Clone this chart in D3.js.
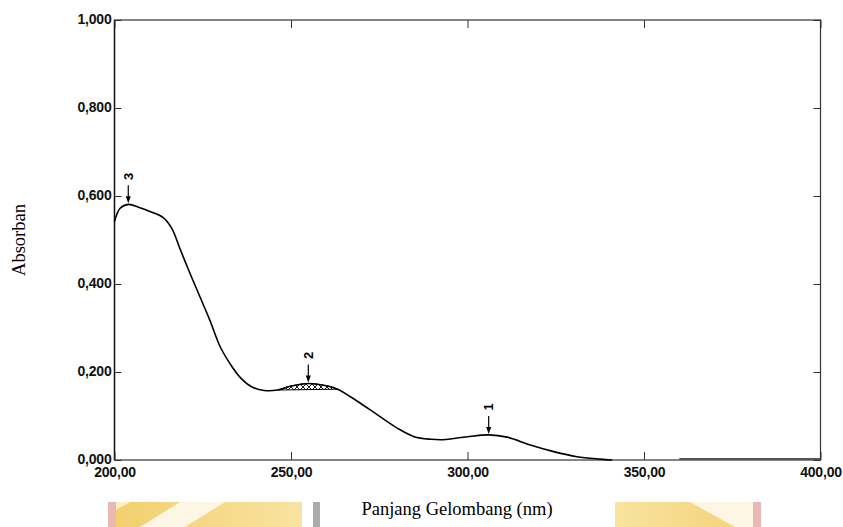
<!DOCTYPE html>
<html>
<head>
<meta charset="utf-8">
<script src="https://cdn.jsdelivr.net/npm/d3@7"></script>
<style>
  html, body { margin: 0; padding: 0; background: #fff; }
  svg { display: block; }
</style>
</head>
<body>
<svg id="chart" width="843" height="527"></svg>
<script>
// ---- data ----
const wavelength = [200, 201.6, 203.9, 207, 210, 213.8, 216.2, 218.6, 221.4, 224.2, 227, 229.9, 233.3, 235.8, 238.7, 242.4, 246.2, 250, 254.9, 260.4, 263.2, 268.9, 274.6, 280.2, 284.9, 289.7, 293, 296.1, 300, 306, 311.2, 317.8, 324.4, 331, 337.6, 341];
const absorbance = [0.542, 0.572, 0.581, 0.574, 0.565, 0.551, 0.527, 0.479, 0.424, 0.371, 0.318, 0.258, 0.212, 0.186, 0.167, 0.158, 0.159, 0.168, 0.174, 0.168, 0.161, 0.133, 0.102, 0.072, 0.053, 0.047, 0.046, 0.049, 0.053, 0.057, 0.052, 0.034, 0.019, 0.0075, 0.002, 0.0];
const tailWavelength = [360, 400];
const tailAbsorbance = [0.002, 0.002];
const hatchRange = [246.2, 263.2];
const peakWavelength = [306, 254.9, 203.9];
const peakAbsorbance = [0.057, 0.174, 0.581];
const peakLabels = ["1", "2", "3"];
const xTicks = [200, 250, 300, 350, 400];
const yTicks = [0, 0.2, 0.4, 0.6, 0.8, 1.0];
const xTitle = "Panjang Gelombang (nm)";
const yTitle = "Absorban";

// ---- layout ----
const svg = d3.select("#chart");
const L = 114.5, R = 820.5, T = 20, B = 460;
const x = d3.scaleLinear().domain([200, 400]).range([L, R]);
const y = d3.scaleLinear().domain([0, 1]).range([B, T]);
const fmtY = v => d3.format(".3f")(v).replace(".", ",");
const fmtX = v => d3.format(".2f")(v).replace(".", ",");

// ---- watermark decoration (background) ----
const defs = svg.append("defs");
const g1 = defs.append("linearGradient").attr("id", "wm1").attr("x1", "0").attr("x2", "1").attr("y1", "0").attr("y2", "0");
g1.append("stop").attr("offset", "0").attr("stop-color", "#f3cf6e");
g1.append("stop").attr("offset", "1").attr("stop-color", "#f8e3a2");
const g2 = defs.append("linearGradient").attr("id", "wm2").attr("x1", "0").attr("x2", "1").attr("y1", "0").attr("y2", "0");
g2.append("stop").attr("offset", "0").attr("stop-color", "#f8e3a0");
g2.append("stop").attr("offset", "1").attr("stop-color", "#f4d277");
const wm = svg.append("g").attr("class", "watermark");
wm.append("rect").attr("x", 108).attr("y", 502).attr("width", 8).attr("height", 25).attr("fill", "#e8b9b4");
wm.append("rect").attr("x", 116).attr("y", 502).attr("width", 186).attr("height", 25).attr("fill", "url(#wm1)");
wm.append("polygon").attr("points", "140,527 180,502 225,502 185,527").attr("fill", "#fdf6e4");
wm.append("polygon").attr("points", "116,510 130,502 116,502").attr("fill", "#fbeec8");
wm.append("rect").attr("x", 313).attr("y", 502).attr("width", 7).attr("height", 25).attr("fill", "#ababab");
wm.append("rect").attr("x", 615).attr("y", 502).attr("width", 138).attr("height", 25).attr("fill", "url(#wm2)");
wm.append("polygon").attr("points", "690,502 753,502 753,527 735,527").attr("fill", "#fdf6e4");
wm.append("rect").attr("x", 753).attr("y", 502).attr("width", 8).attr("height", 25).attr("fill", "#e8b9b4");

// ---- hatch pattern ----
const pat = defs.append("pattern").attr("id", "hatch").attr("patternUnits", "userSpaceOnUse")
  .attr("width", 6).attr("height", 6);
pat.append("path").attr("d", "M0,0 L6,6 M6,0 L0,6").attr("stroke", "#000").attr("stroke-width", 0.9);

// ---- frame ----
svg.append("rect").attr("x", L).attr("y", T).attr("width", R - L).attr("height", B - T)
  .attr("fill", "none").attr("stroke", "#333").attr("stroke-width", 1.2);
svg.append("line").attr("x1", L).attr("x2", L).attr("y1", T).attr("y2", B)
  .attr("stroke", "#111").attr("stroke-width", 1.4);

// ---- axes ----
const tickFont = "'Liberation Sans', Arial, sans-serif";
const yAxis = d3.axisLeft(y).tickValues(yTicks).tickFormat(fmtY).tickSizeInner(-7).tickSizeOuter(0).tickPadding(3);
const gy = svg.append("g").attr("transform", `translate(${L},0)`).call(yAxis);
gy.select(".domain").remove();
gy.selectAll("line").attr("stroke", "#333");
gy.selectAll("text").attr("x", -3).attr("dy", "0.28em").attr("font-family", tickFont).attr("font-size", 14).attr("font-weight", "bold")
  .attr("fill", "#111").attr("letter-spacing", "-0.2");

const yAxisR = d3.axisRight(y).tickValues(yTicks).tickFormat("").tickSizeInner(-7).tickSizeOuter(0);
const gyr = svg.append("g").attr("transform", `translate(${R},0)`).call(yAxisR);
gyr.select(".domain").remove();
gyr.selectAll("line").attr("stroke", "#333");

const xAxis = d3.axisBottom(x).tickValues(xTicks).tickFormat(fmtX).tickSizeInner(-8).tickSizeOuter(0).tickPadding(3);
const gx = svg.append("g").attr("transform", `translate(0,${B})`).call(xAxis);
gx.select(".domain").remove();
gx.selectAll("line").attr("stroke", "#333");
gx.selectAll("text").attr("y", 7).attr("font-family", tickFont).attr("font-size", 14).attr("font-weight", "bold")
  .attr("fill", "#111").attr("letter-spacing", "-0.2");

const xAxisT = d3.axisTop(x).tickValues(xTicks).tickFormat("").tickSizeInner(-8).tickSizeOuter(0);
const gxt = svg.append("g").attr("transform", `translate(0,${T})`).call(xAxisT);
gxt.select(".domain").remove();
gxt.selectAll("line").attr("stroke", "#333");

// ---- curve ----
const pts = wavelength.map((w, i) => [w, absorbance[i]]);
const line = d3.line().x(d => x(d[0])).y(d => y(d[1])).curve(d3.curveCatmullRom.alpha(0.5));

// hatched region between curve and baseline
const hpts = pts.filter(d => d[0] >= hatchRange[0] && d[0] <= hatchRange[1]);
svg.append("path").attr("d", line(hpts) + "Z")
  .attr("fill", "url(#hatch)").attr("stroke", "#000").attr("stroke-width", 1);

svg.append("path").attr("d", line(pts))
  .attr("fill", "none").attr("stroke", "#000").attr("stroke-width", 1.6);

const tail = tailWavelength.map((w, i) => [w, tailAbsorbance[i]]);
svg.append("path").attr("d", d3.line().x(d => x(d[0])).y(d => y(d[1]))(tail))
  .attr("fill", "none").attr("stroke", "#555").attr("stroke-width", 2);

// ---- peak markers ----
peakWavelength.forEach((w, i) => {
  const px = x(w), py = y(peakAbsorbance[i]);
  const g = svg.append("g");
  g.append("line").attr("x1", px).attr("x2", px).attr("y1", py - 19).attr("y2", py - 4)
    .attr("stroke", "#000").attr("stroke-width", 1.2);
  g.append("path").attr("d", `M${px - 2.5},${py - 8} L${px + 2.5},${py - 8} L${px},${py - 1} Z`).attr("fill", "#000");
  g.append("text").attr("transform", `translate(${px + 4.5},${py - 28}) rotate(-90)`)
    .attr("text-anchor", "middle").attr("font-family", tickFont).attr("font-weight", "bold")
    .attr("font-size", 13).text(peakLabels[i]);
});

// ---- titles ----
svg.append("text").attr("x", 457).attr("y", 515).attr("text-anchor", "middle")
  .attr("font-family", "'Liberation Serif', 'Times New Roman', serif").attr("font-size", 18.5)
  .attr("fill", "#000").text(xTitle);
svg.append("text").attr("transform", "translate(25,240) rotate(-90)").attr("text-anchor", "middle")
  .attr("font-family", "'Liberation Serif', 'Times New Roman', serif").attr("font-size", 18.5)
  .attr("fill", "#000").text(yTitle);
</script>
</body>
</html>
